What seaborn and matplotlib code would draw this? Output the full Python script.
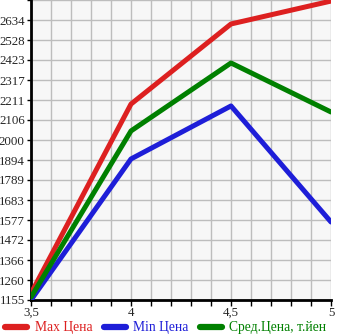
import matplotlib
matplotlib.use("Agg")
import matplotlib.pyplot as plt
import seaborn as sns
import pandas as pd
import numpy as np
from matplotlib.ticker import FixedLocator, MultipleLocator
from matplotlib.lines import Line2D

x_vals = [3.5, 4.0, 4.5, 5.0]
max_price = [1190, 2190, 2613, 2734]
min_price = [1155, 1900, 2180, 1567]
avg_price = [1170, 2048, 2407, 2148]
series_names = ["Max Цена", "Min Цена", "Сред.Цена, т.йен"]
colors = ["#dd2020", "#1e1ed8", "#008000"]
y_ticks = [1155, 1260, 1366, 1472, 1577, 1683, 1789, 1894, 2000, 2106, 2211, 2317, 2423, 2528, 2634]
x_ticks = [3.5, 4.0, 4.5, 5.0]
x_labels = ["3,5", "4", "4,5", "5"]

df = pd.DataFrame({
    "x": x_vals * 3,
    "y": max_price + min_price + avg_price,
    "s": [series_names[0]] * 4 + [series_names[1]] * 4 + [series_names[2]] * 4,
})

sns.set_style("white")
plt.rcParams['font.family'] = ['Liberation Serif', 'DejaVu Serif']

fig = plt.figure(figsize=(3.45, 3.35), dpi=100)
ax = fig.add_axes([31/345, 35/335, 300/345, 300/335])
ax.set_facecolor("#f7f7f7")

sns.lineplot(data=df, x="x", y="y", hue="s", palette=colors, linewidth=3.6,
             ax=ax, legend=False, sort=False, zorder=3)

step = (2634 - 1155) / 14
ax.set_xlim(3.5, 5.0)
ax.set_ylim(1155, 2634 + step)
ax.yaxis.set_major_locator(FixedLocator(y_ticks + [2634 + step]))
ax.set_yticklabels([str(v) for v in y_ticks] + [""])
ax.xaxis.set_major_locator(FixedLocator(x_ticks))
ax.set_xticklabels(x_labels)
ax.xaxis.set_minor_locator(MultipleLocator(0.1))
ax.grid(True, which="both", color="#bdbdbd", linewidth=1.0, zorder=0)
ax.set_axisbelow(True)
ax.tick_params(axis="y", which="major", length=3, width=1, direction="out", pad=1.5, labelsize=9.3, color="black", left=True)
ax.tick_params(axis="x", which="major", length=4, width=1, direction="out", pad=1, labelsize=9.3, color="black", bottom=True)
ax.tick_params(axis="x", which="minor", length=4, width=1, direction="out", color="black", bottom=True)
for side in ["top", "right"]:
    ax.spines[side].set_visible(False)
for side in ["left", "bottom"]:
    ax.spines[side].set_color("black")
    ax.spines[side].set_linewidth(2)
ax.set_xlabel("")
ax.set_ylabel("")

handles = [Line2D([0], [0], color=c, linewidth=4.5, solid_capstyle="round") for c in colors]
leg = fig.legend(handles, series_names, loc="center", bbox_to_anchor=(166/345, 7/335), ncol=3,
                 frameon=False, fontsize=9.8, handlelength=1.6, handletextpad=0.55, columnspacing=0.85,
                 borderaxespad=0.0, borderpad=0.0)
for t, c in zip(leg.get_texts(), colors):
    t.set_color(c)

fig.savefig("out.png", dpi=100)
